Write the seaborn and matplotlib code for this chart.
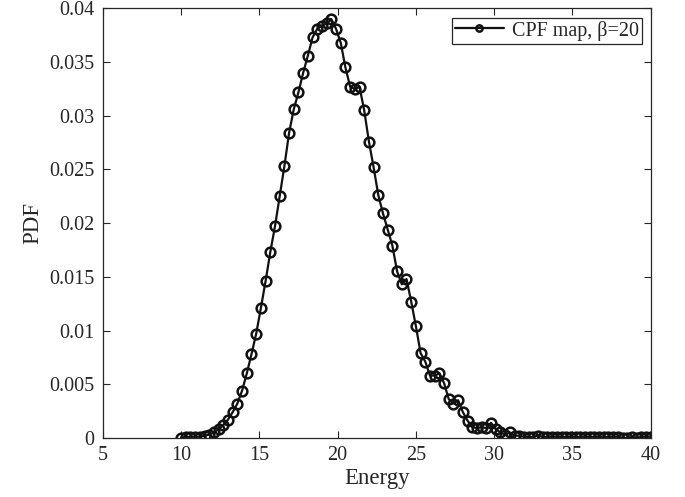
import numpy as np
import pandas as pd
import matplotlib
matplotlib.use('Agg')
from matplotlib import pyplot as plt
import seaborn as sns

# energy grid and PDF values
energy = [10.0, 10.3, 10.6, 10.9, 11.2, 11.5, 11.8, 12.1, 12.4, 12.7,
          13.0, 13.3, 13.6, 13.9, 14.2, 14.5, 14.8, 15.1, 15.4, 15.7,
          16.0, 16.3, 16.6, 16.9, 17.2, 17.5, 17.8, 18.1, 18.4, 18.7,
          19.0, 19.3, 19.6, 19.9, 20.2, 20.5, 20.8, 21.1, 21.4, 21.7,
          22.0, 22.3, 22.6, 22.9, 23.2, 23.5, 23.8, 24.1, 24.4, 24.7,
          25.0, 25.3, 25.6, 25.9, 26.2, 26.5, 26.8, 27.1, 27.4, 27.7,
          28.0, 28.3, 28.6, 28.9, 29.2, 29.5, 29.8, 30.1, 30.4, 30.7,
          31.0, 31.3, 31.6, 31.9, 32.2, 32.5, 32.8, 33.1, 33.4, 33.7,
          34.0, 34.3, 34.6, 34.9, 35.2, 35.5, 35.8, 36.1, 36.4, 36.7,
          37.0, 37.3, 37.6, 37.9, 38.2, 38.5, 38.8, 39.1, 39.4, 39.7,
          40.0]
pdf = [0.0000, 0.0001, 0.0001, 0.0001, 0.0001, 0.0002, 0.0003, 0.0005, 0.0008, 0.0012,
       0.0017, 0.0024, 0.0032, 0.0044, 0.0060, 0.0078, 0.0097, 0.0121, 0.0146, 0.0173,
       0.0197, 0.0225, 0.0253, 0.0284, 0.0306, 0.0322, 0.0340, 0.0356, 0.0373, 0.0381,
       0.0384, 0.0386, 0.0390, 0.0381, 0.0368, 0.0345, 0.0327, 0.0325, 0.0327, 0.0305,
       0.0276, 0.0252, 0.0226, 0.0209, 0.0194, 0.0179, 0.0155, 0.0143, 0.0148, 0.0127,
       0.0104, 0.0079, 0.0071, 0.0058, 0.0058, 0.0060, 0.0051, 0.0036, 0.0032, 0.0035,
       0.0024, 0.0016, 0.0010, 0.0009, 0.0010, 0.0009, 0.0014, 0.0008, 0.0005, 0.0003,
       0.0005, 0.0002, 0.0002, 0.0001, 0.0001, 0.0001, 0.0002, 0.0001, 0.0001, 0.0001,
       0.0001, 0.0001, 0.0001, 0.0001, 0.0001, 0.0001, 0.0001, 0.0001, 0.0001, 0.0001,
       0.0001, 0.0001, 0.0001, 0.0001, 0.0000, 0.0000, 0.0001, 0.0000, 0.0001, 0.0001,
       0.0001]
label = 'CPF map, β=20'

df = pd.DataFrame({'Energy': energy, 'PDF': pdf})

sns.set_style('ticks', {'xtick.direction': 'in', 'ytick.direction': 'in'})
plt.rcParams['font.family'] = ['Liberation Serif', 'DejaVu Serif']

fig = plt.figure(figsize=(6.85, 4.97), dpi=100)
ax = fig.add_axes([0.150, 0.119, 0.800, 0.864])

sns.lineplot(data=df, x='Energy', y='PDF', ax=ax, color='#111111', lw=1.6,
             marker='o', markersize=7, markerfacecolor='none',
             markeredgecolor='#111111', markeredgewidth=1.8, label=label)

ax.set_xlim(5, 40)
ax.set_ylim(0, 0.04)
ax.set_xticks([5, 10, 15, 20, 25, 30, 35, 40])
ax.set_yticks([0, 0.005, 0.01, 0.015, 0.02, 0.025, 0.03, 0.035, 0.04])
ax.set_yticklabels(['0', '0.005', '0.01', '0.015', '0.02', '0.025', '0.03', '0.035', '0.04'])
ax.tick_params(top=True, right=True, direction='in', length=5, width=0.8,
               labelsize=14.5, colors='#262626', pad=6)
for s in ax.spines.values():
    s.set_linewidth(0.9)
    s.set_color('#262626')
ax.set_xlabel('Energy', fontsize=16.5, labelpad=2)
ax.set_ylabel('PDF', fontsize=16.5, labelpad=4)

leg = ax.legend(loc='upper right', fontsize=14.5, fancybox=False, framealpha=1,
                edgecolor='#262626', handlelength=2.4, borderaxespad=0.45,
                borderpad=0.15, handletextpad=0.4, markerscale=0.65)
leg.get_frame().set_linewidth(0.9)

fig.savefig('out.png', dpi=100)
